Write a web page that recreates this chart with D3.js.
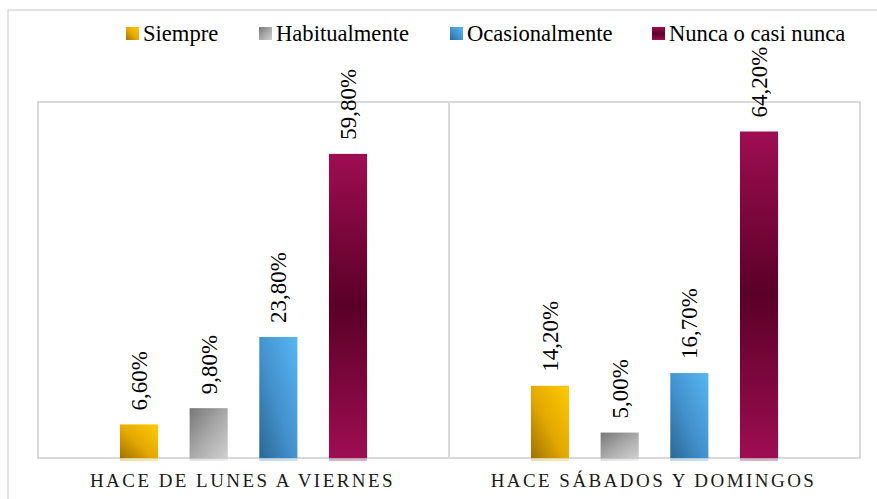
<!DOCTYPE html>
<html>
<head>
<meta charset="utf-8">
<script src="https://cdn.jsdelivr.net/npm/d3@7"></script>
<style>
  body { margin: 0; background: #fff; }
  svg text { font-family: "Liberation Serif", "Times New Roman", Times, "DejaVu Serif", serif; }
</style>
</head>
<body>
<svg id="chart" width="877" height="499"></svg>
<script>
// data
const categories = ["HACE DE LUNES A VIERNES", "HACE SÁBADOS Y DOMINGOS"];
const seriesNames = ["Siempre", "Habitualmente", "Ocasionalmente", "Nunca o casi nunca"];
const lunesViernes = [6.6, 9.8, 23.8, 59.8];
const sabadosDomingos = [14.2, 5.0, 16.7, 64.2];
const valuesByCategory = [lunesViernes, sabadosDomingos];

// layout
const plot = { left: 38, top: 102, right: 860, bottom: 458 };
const gridColor = "#d9d9d9";
const serif = "'Liberation Serif', 'Times New Roman', Times, 'DejaVu Serif', serif";

const svg = d3.select("#chart");

// gradients for each series
const defs = svg.append("defs");
const gradients = [
    { id: "g0", x1: 0, y1: 1, x2: 1, y2: 0, stops: [["0", "#9f7200"], ["0.45", "#e3a800"], ["1", "#ffcb00"]] },
    { id: "g1", x1: 0, y1: 0, x2: 1, y2: 1, stops: [["0", "#777777"], ["0.5", "#a8a8a8"], ["1", "#d0d0d0"]] },
    { id: "g2", x1: 0, y1: 1, x2: 1, y2: 0, stops: [["0", "#2b6894"], ["0.45", "#4390cc"], ["1", "#57b7f3"]] },
    { id: "g3", x1: 0, y1: 0, x2: 0, y2: 1, stops: [["0", "#9e0d52"], ["0.5", "#5a0027"], ["1", "#9e0d52"]] }
];
gradients.forEach(g => {
    const lg = defs.append("linearGradient")
        .attr("id", g.id)
        .attr("x1", g.x1).attr("y1", g.y1)
        .attr("x2", g.x2).attr("y2", g.y2);
    g.stops.forEach(s => lg.append("stop").attr("offset", s[0]).attr("stop-color", s[1]));
});

// outer chart frame
svg.append("rect")
    .attr("x", 8).attr("y", 10)
    .attr("width", 900).attr("height", 520)
    .attr("fill", "none")
    .attr("stroke", gridColor)
    .attr("stroke-width", 1.5);

// scales
const x0 = d3.scaleBand()
    .domain(categories)
    .range([plot.left, plot.right])
    .padding(0);

const x1 = d3.scaleBand()
    .domain(seriesNames)
    .range([0, x0.bandwidth()])
    .paddingInner(0.453)
    .paddingOuter(1.176);

const y = d3.scaleLinear()
    .domain([0, 70])
    .range([plot.bottom, plot.top]);

// plot frame and separator
svg.append("rect")
    .attr("x", plot.left).attr("y", plot.top)
    .attr("width", plot.right - plot.left)
    .attr("height", plot.bottom - plot.top)
    .attr("fill", "none")
    .attr("stroke", gridColor)
    .attr("stroke-width", 2);

svg.append("line")
    .attr("x1", x0(categories[1])).attr("x2", x0(categories[1]))
    .attr("y1", plot.top).attr("y2", plot.bottom)
    .attr("stroke", gridColor)
    .attr("stroke-width", 2);

const fmt = v => d3.format(".2f")(v).replace(".", ",") + "%";

const groups = svg.selectAll(".cat")
    .data(categories)
    .enter()
    .append("g")
    .attr("class", "cat")
    .attr("transform", d => `translate(${x0(d)},0)`);

const rows = (d, i) => valuesByCategory[i].map((v, j) => ({ name: seriesNames[j], value: v, idx: j }));

// faint reflection under each bar
groups.selectAll(".refl")
    .data(rows)
    .enter()
    .append("rect")
    .attr("class", "refl")
    .attr("x", d => x1(d.name))
    .attr("y", plot.bottom)
    .attr("width", x1.bandwidth())
    .attr("height", 3)
    .attr("fill", d => `url(#g${d.idx})`)
    .attr("opacity", 0.3);

groups.selectAll(".bar")
    .data(rows)
    .enter()
    .append("rect")
    .attr("class", "bar")
    .attr("x", d => x1(d.name))
    .attr("y", d => y(d.value))
    .attr("width", x1.bandwidth())
    .attr("height", d => y(0) - y(d.value))
    .attr("fill", d => `url(#g${d.idx})`);

// value labels, rotated
groups.selectAll(".val")
    .data(rows)
    .enter()
    .append("text")
    .attr("class", "val")
    .attr("transform", d => `translate(${x1(d.name) + x1.bandwidth() / 2 + 8},${y(d.value) - 14}) rotate(-90)`)
    .attr("font-family", serif)
    .attr("font-size", 23)
    .attr("fill", "#000")
    .text(d => fmt(d.value));

// category labels
groups.append("text")
    .attr("x", x0.bandwidth() / 2 - 1)
    .attr("y", 487)
    .attr("text-anchor", "middle")
    .attr("font-family", serif)
    .attr("font-size", 19)
    .attr("letter-spacing", 2.45)
    .attr("fill", "#1a1a1a")
    .text(d => d);

// legend
const legendX = [126, 259, 450, 652];
const legend = svg.selectAll(".leg")
    .data(seriesNames)
    .enter()
    .append("g")
    .attr("class", "leg")
    .attr("transform", (d, i) => `translate(${legendX[i]},27)`);

legend.append("rect")
    .attr("width", 13).attr("height", 13)
    .attr("fill", (d, i) => `url(#g${i})`);

legend.append("text")
    .attr("x", 17)
    .attr("y", 14)
    .attr("font-family", serif)
    .attr("font-size", 22.6)
    .attr("fill", "#000")
    .text(d => d);
</script>
</body>
</html>
